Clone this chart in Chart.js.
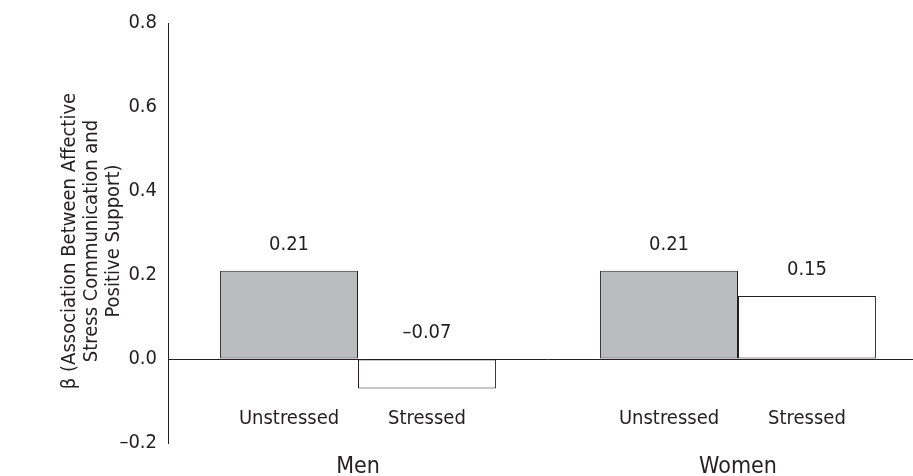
<!DOCTYPE html>
<html>
<head>
<meta charset="utf-8">
<script src="https://cdn.jsdelivr.net/npm/chart.js@4"></script>
<style>
  html, body { margin: 0; padding: 0; background: #fff; overflow: hidden; }
  #wrap { width: 928px; height: 476px; }
</style>
</head>
<body>
<div id="wrap"><canvas id="chart"></canvas></div>
<script>
const groups = ['Men', 'Women'];
const conditions = ['Unstressed', 'Stressed'];
const unstressedValues = [0.21, 0.21];
const stressedValues = [-0.07, 0.15];
const yTicks = [-0.2, 0, 0.2, 0.4, 0.6, 0.8];
const yTitle = ['\u03b2 (Association Between Affective', 'Stress Communication and', 'Positive Support)'];

const FONT = "'Liberation Sans Narrow', 'DejaVu Sans Condensed', 'Arial Narrow', sans-serif";
const INK = '#231f20';

const fmt = (v, d) => (v < 0 ? '\u2013' : '') + Math.abs(v).toFixed(d);

// value labels above bars, condition labels under each bar, rotated y title
const barLabels = {
    id: 'barLabels',
    afterDatasetsDraw(chart) {
        const ctx = chart.ctx;
        const y = chart.scales.y;
        const zero = y.getPixelForValue(0);
        const bottom = y.getPixelForValue(yTicks[0]);
        ctx.save();
        ctx.fillStyle = INK;
        ctx.textAlign = 'center';
        ctx.textBaseline = 'middle';
        chart.data.datasets.forEach((ds, i) => {
            chart.getDatasetMeta(i).data.forEach((bar, j) => {
                const v = ds.data[j];
                ctx.font = `20px ${FONT}`;
                ctx.fillText(fmt(v, 2), bar.x, Math.min(bar.y, zero) - 26);
                ctx.fillText(ds.label, bar.x, bottom - 24);
            });
        });

        // axis title, three lines
        ctx.font = `20px ${FONT}`;
        ctx.translate(70, chart.height / 2 + 3);
        ctx.rotate(-Math.PI / 2);
        yTitle.forEach((line, k) => ctx.fillText(line, 0, k * 22));
        ctx.restore();
    }
};

new Chart(document.getElementById('chart'), {
    type: 'bar',
    data: {
        labels: groups,
        datasets: [
            {
                label: conditions[0],
                data: unstressedValues,
                backgroundColor: '#bbbcbe',
                borderColor: INK,
                borderWidth: 1,
                borderSkipped: false
            },
            {
                label: conditions[1],
                data: stressedValues,
                backgroundColor: '#ffffff',
                borderColor: INK,
                borderWidth: 1,
                borderSkipped: false
            }
        ]
    },
    options: {
        responsive: true,
        maintainAspectRatio: false,
        animation: false,
        categoryPercentage: 0.726,
        barPercentage: 1,
        layout: { padding: { top: 21, left: 0, right: 0, bottom: 0 } },
        plugins: {
            legend: { display: false },
            tooltip: { enabled: false }
        },
        scales: {
            x: {
                grid: { display: false, drawTicks: false },
                border: { display: false },
                ticks: {
                    color: INK,
                    font: { family: FONT, size: 23 },
                    padding: 10
                },
                afterFit(scale) { scale.height = 33; }
            },
            y: {
                min: yTicks[0],
                max: yTicks[yTicks.length - 1],
                afterBuildTicks(scale) { scale.ticks = yTicks.map(v => ({ value: v })); },
                afterFit(scale) { scale.width = 168; },
                grid: {
                    drawTicks: false,
                    color: c => (Math.abs(c.tick.value) < 1e-9 ? INK : 'rgba(0,0,0,0)'),
                    lineWidth: 1
                },
                border: { display: true, color: INK, width: 1 },
                ticks: {
                    color: INK,
                    font: { family: FONT, size: 20 },
                    padding: 11,
                    callback: v => fmt(v, 1)
                }
            }
        }
    },
    plugins: [barLabels]
});
</script>
</body>
</html>
